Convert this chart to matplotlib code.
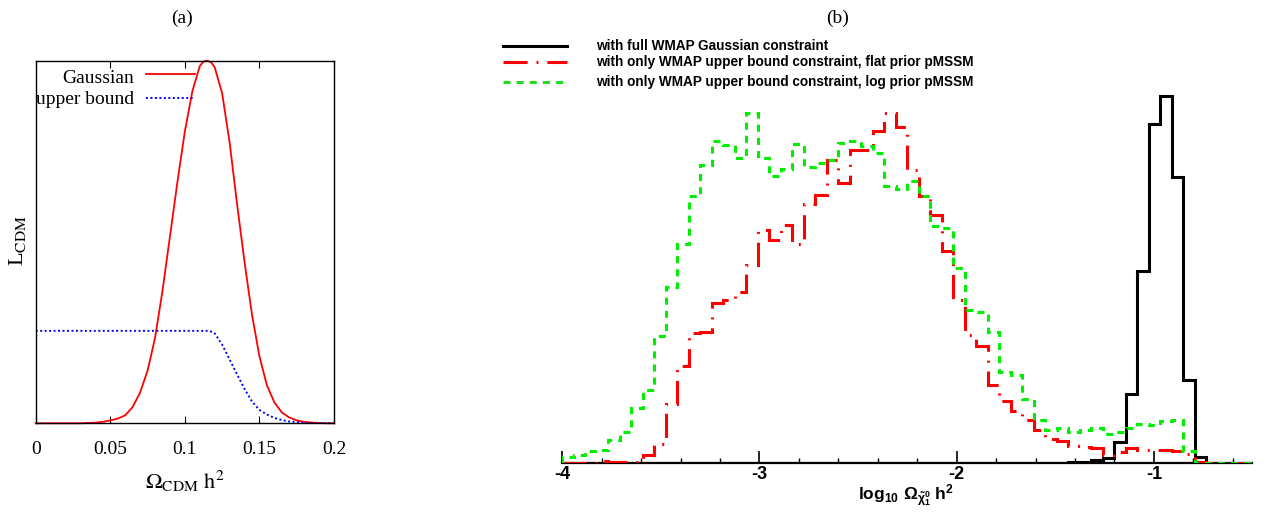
import numpy as np
import matplotlib.pyplot as plt
from matplotlib.lines import Line2D
from matplotlib.ticker import MultipleLocator

plt.rcParams['axes.unicode_minus'] = False
plt.rcParams['mathtext.fontset'] = 'custom'
plt.rcParams['mathtext.rm'] = 'Liberation Sans:bold'
plt.rcParams['mathtext.it'] = 'Liberation Sans:bold'
plt.rcParams['mathtext.bf'] = 'Liberation Sans:bold'

# ---- panel (a): likelihood shapes
omega = [0.000, 0.010, 0.020, 0.030, 0.035, 0.040, 0.045, 0.050, 0.055, 0.060,
         0.065, 0.070, 0.075, 0.080, 0.085, 0.090, 0.095, 0.100, 0.105, 0.110,
         0.1125, 0.115, 0.1175, 0.120, 0.125, 0.130, 0.135, 0.140, 0.145, 0.150,
         0.155, 0.160, 0.165, 0.170, 0.175, 0.180, 0.185, 0.190, 0.195, 0.200]
gauss = [0.000, 0.000, 0.000, 0.000, 0.001, 0.002, 0.004, 0.008, 0.013, 0.022,
         0.045, 0.085, 0.145, 0.235, 0.365, 0.515, 0.665, 0.805, 0.915, 0.985,
         0.998, 1.000, 0.996, 0.982, 0.910, 0.775, 0.605, 0.445, 0.300, 0.185,
         0.105, 0.058, 0.030, 0.016, 0.008, 0.004, 0.002, 0.001, 0.000, 0.000]

omega_ub = [0.000, 0.050, 0.100, 0.115, 0.1175, 0.120, 0.125, 0.130, 0.135, 0.140,
            0.145, 0.150, 0.155, 0.160, 0.165, 0.170, 0.175, 0.180, 0.190, 0.200]
upper = [0.255, 0.255, 0.255, 0.255, 0.253, 0.248, 0.217, 0.176, 0.135, 0.095,
         0.060, 0.037, 0.024, 0.015, 0.009, 0.005, 0.003, 0.001, 0.000, 0.000]

a_ticks = [0, 0.05, 0.1, 0.15, 0.2]
a_ticklabels = ['0', '0.05', '0.1', '0.15', '0.2']

# ---- panel (b): histograms of log10 Omega h^2, 60 bins between -4 and -0.5
x_lo, x_hi, nbins = -4.0, -0.5, 60

full_gauss = [0, 0, 0, 0, 0, 0, 0, 0, 0, 0,
              0, 0, 0, 0, 0, 0, 0, 0, 0, 0,
              0, 0, 0, 0, 0, 0, 0, 0, 0, 0,
              0, 0, 0, 0, 0, 0, 0, 0, 0, 0,
              0, 0.5, 0.5, 0.5, 1.6, 1.6, 3.3, 5.6, 21.6, 69,
              192, 339, 367, 286, 83, 6.6, 0, 0, 0, 0]

flat_prior = [0.5, 0.5, 0.5, 2, 1.5, 1.5, 1.5, 8, 19, 59,
              97, 130, 131, 160, 163, 171, 198, 233, 223, 238,
              219, 259, 268, 303, 280, 313, 313, 332, 350, 336,
              293, 267, 248, 212, 163, 128, 117, 78, 62, 52,
              43, 33, 24, 22, 17, 16, 15, 8, 11, 15,
              13, 13, 13, 12, 9, 1, 0.5, 0.5, 0.5, 0.5]

log_prior = [6, 8, 12, 13, 23, 31, 55, 73, 127, 176,
             219, 267, 298, 322, 318, 305, 350, 305, 287, 294,
             319, 296, 300, 303, 320, 322, 317, 310, 277, 274,
             282, 267, 237, 235, 195, 153, 151, 131, 91, 88,
             64, 43, 33, 35, 31, 33, 35, 29, 31, 35,
             39, 38, 42, 43, 12, 0.5, 0.5, 0.5, 0.5, 0.5]

b_ticks = [-4, -3, -2, -1]
legend_labels = ['with full WMAP Gaussian constraint',
                 'with only WMAP upper bound constraint, flat prior pMSSM',
                 'with only WMAP upper bound constraint, log prior pMSSM']

W, H = 1269, 517
fig = plt.figure(figsize=(W / 100, H / 100), dpi=100)

serif = 'Liberation Serif'
sans = 'Liberation Sans'

# ---------------- (a)
axa = fig.add_axes([35.7 / W, 1 - 423.3 / H, 298.3 / W, 362.6 / H])
axa.plot(omega, gauss, color='red', lw=1.3, clip_on=False)
axa.plot(omega_ub, upper, color='blue', lw=1.4, ls=(0, (1, 1.3)))
axa.set_xlim(0, 0.2)
axa.set_ylim(0, 1.0)
axa.set_yticks([])
axa.set_xticks(a_ticks)
axa.set_xticklabels(a_ticklabels, family=serif, fontsize=14)
axa.tick_params(axis='x', direction='in', top=True, length=5, width=0.8, pad=13)
for s in axa.spines.values():
    s.set_linewidth(1.0)

def ax_pt(px, py):
    return (px - 35.7) / 298.3, (423.3 - py) / 362.6

tx, ty = ax_pt(134, 83)
axa.text(tx, ty, 'Gaussian', transform=axa.transAxes, ha='right', va='baseline',
         family=serif, fontsize=14)
tx, ty = ax_pt(134, 104.5)
axa.text(tx, ty, 'upper bound', transform=axa.transAxes, ha='right', va='baseline',
         family=serif, fontsize=14)
x0, y0 = ax_pt(146, 74)
x1, _ = ax_pt(195, 74)
axa.add_line(Line2D([x0, x1], [y0, y0], transform=axa.transAxes, color='red', lw=1.3))
_, y1 = ax_pt(146, 97.7)
axa.add_line(Line2D([x0, x1], [y1, y1], transform=axa.transAxes, color='blue', lw=1.4,
                    ls=(0, (1, 1.3))))

fig.text(18 / W, 1 - 240 / H, r'L$_{\rm CDM}$', rotation=90, ha='center', va='center',
         family=serif, fontsize=16, math_fontfamily='stix')
fig.text(185 / W, 1 - 489 / H, r'$\Omega_{\rm CDM}\ {\rm h}^2$', ha='center', va='baseline',
         family=serif, fontsize=16, math_fontfamily='stix')
fig.text(182 / W, 1 - 18 / H, '(a)', ha='center', va='center', family=serif, fontsize=14)
fig.text(838 / W, 1 - 18 / H, '(b)', ha='center', va='center', family=serif, fontsize=14)

# ---------------- (b)
edges = np.linspace(x_lo, x_hi, nbins + 1)
axb = fig.add_axes([562.3 / W, 1 - 463.3 / H, 690.1 / W, 373.3 / H])
lw = 2.2
red_ls = (0, (7.9, 2.9, 0.65, 2.9))
green_ls = (0, (2.3, 2.0))
axb.stairs(full_gauss, edges, color='black', lw=lw, zorder=3)
axb.stairs(flat_prior, edges, color='red', lw=lw, ls=red_ls, zorder=4)
axb.stairs(log_prior, edges, color='#00ee00', lw=lw, ls=green_ls, zorder=5)
axb.set_xlim(x_lo, x_hi)
axb.set_ylim(0, 373.3)
for s in ['top', 'right', 'left']:
    axb.spines[s].set_visible(False)
axb.spines['bottom'].set_linewidth(1.6)
axb.set_yticks([])
axb.set_xticks(b_ticks)
axb.set_xticklabels([str(t) for t in b_ticks], family=sans, fontweight='bold', fontsize=13)
axb.xaxis.set_minor_locator(MultipleLocator(0.2))
axb.tick_params(axis='x', which='major', direction='in', length=8.5, width=1.2, pad=2)
axb.tick_params(axis='x', which='minor', direction='in', length=3.6, width=1.0)

fig.text(906 / W, 1 - 500 / H, r'log$_{10}$ $\Omega_{\tilde{\chi}^{0}_{1}}$ h$^{2}$',
         ha='center', va='baseline', family=sans, fontweight='bold', fontsize=12.5,
         math_fontfamily='custom')

# legend of (b)
styles = [dict(color='black', lw=lw),
          dict(color='red', lw=lw, ls=red_ls),
          dict(color='#22dd22', lw=lw, ls=green_ls)]
rows = [45.7, 62.3, 81.7]
for lab, st, yy in zip(legend_labels, styles, rows):
    fig.add_artist(Line2D([503 / W, 567 / W], [1 - yy / H] * 2, transform=fig.transFigure, **st))
    fig.text(596 / W, 1 - yy / H, lab, ha='left', va='center', family=sans,
             fontweight='bold', fontsize=9.8)

fig.savefig('out.png', dpi=100)
